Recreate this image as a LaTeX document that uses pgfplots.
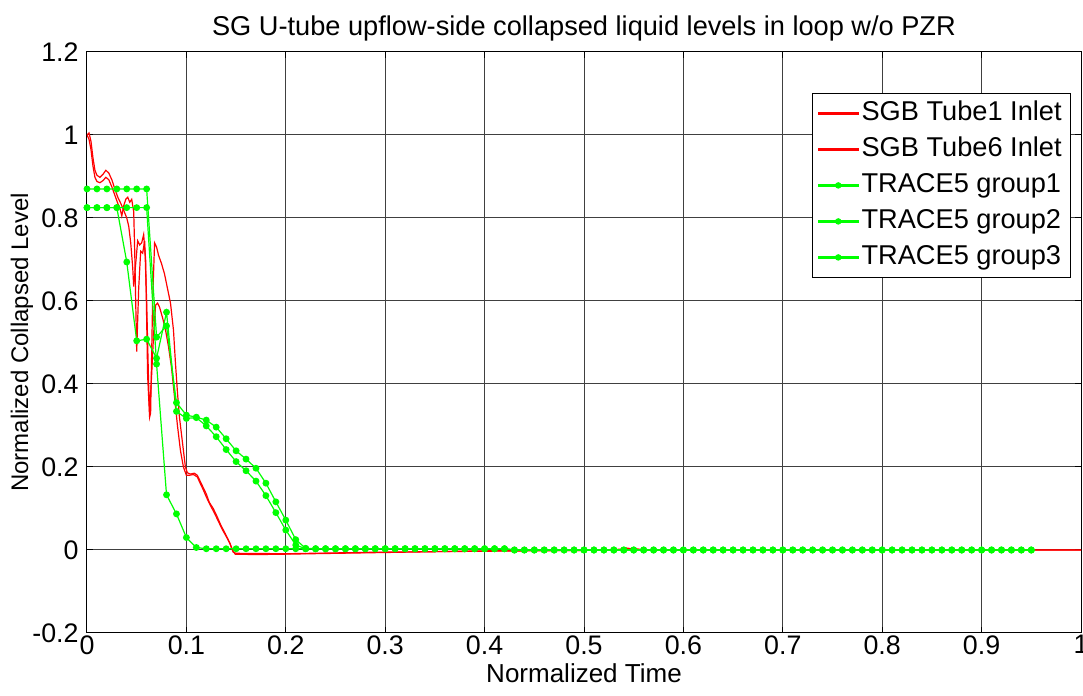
\documentclass[border=0pt]{standalone}
\usepackage{pgfplots}
\pgfplotsset{compat=1.18}
\usepackage{pgfplotstable}
\usepackage{fontspec}
\setmainfont{Liberation Sans}

\pgfplotstableread[row sep=\\]{
x y\\
0 0.870\\ 0.01 0.870\\ 0.02 0.870\\ 0.03 0.870\\ 0.04 0.870\\ 0.05 0.870\\ 0.06 0.870\\
0.07 0.513\\ 0.08 0.540\\ 0.09 0.355\\ 0.10 0.325\\ 0.11 0.320\\ 0.12 0.313\\ 0.13 0.296\\
0.14 0.268\\ 0.15 0.239\\ 0.16 0.219\\ 0.17 0.197\\ 0.18 0.161\\ 0.19 0.116\\ 0.20 0.072\\
0.21 0.025\\ 0.22 0.004\\
0.23 0.003\\ 0.24 0.003\\ 0.25 0.003\\ 0.26 0.003\\ 0.27 0.003\\ 0.28 0.003\\ 0.29 0.003\\ 0.30 0.003\\
0.31 0.003\\ 0.32 0.003\\ 0.33 0.003\\ 0.34 0.003\\ 0.35 0.003\\ 0.36 0.003\\ 0.37 0.003\\ 0.38 0.003\\
0.39 0.003\\ 0.40 0.003\\ 0.41 0.003\\ 0.42 0.003\\
0.43 0\\ 0.44 0\\ 0.45 0\\ 0.46 0\\ 0.47 0\\ 0.48 0\\ 0.49 0\\ 0.50 0\\ 0.51 0\\ 0.52 0\\ 0.53 0\\
0.54 0\\ 0.55 0\\ 0.56 0\\ 0.57 0\\ 0.58 0\\ 0.59 0\\ 0.60 0\\ 0.61 0\\ 0.62 0\\ 0.63 0\\ 0.64 0\\
0.65 0\\ 0.66 0\\ 0.67 0\\ 0.68 0\\ 0.69 0\\ 0.70 0\\ 0.71 0\\ 0.72 0\\ 0.73 0\\ 0.74 0\\ 0.75 0\\
0.76 0\\ 0.77 0\\ 0.78 0\\ 0.79 0\\ 0.80 0\\ 0.81 0\\ 0.82 0\\ 0.83 0\\ 0.84 0\\ 0.85 0\\ 0.86 0\\
0.87 0\\ 0.88 0\\ 0.89 0\\ 0.90 0\\ 0.91 0\\ 0.92 0\\ 0.93 0\\ 0.94 0\\ 0.95 0\\
}\groupone

\pgfplotstableread[row sep=\\]{
x y\\
0 0.825\\ 0.01 0.825\\ 0.02 0.825\\ 0.03 0.825\\ 0.04 0.825\\ 0.05 0.825\\ 0.06 0.825\\
0.07 0.448\\ 0.08 0.133\\ 0.09 0.087\\ 0.10 0.030\\ 0.11 0.006\\ 0.12 0.003\\ 0.13 0.003\\
0.14 0.003\\ 0.15 0.003\\ 0.16 0.003\\ 0.17 0.003\\ 0.18 0.003\\ 0.19 0.003\\ 0.20 0.003\\
0.21 0.003\\ 0.22 0.003\\
0.23 0.003\\ 0.24 0.003\\ 0.25 0.003\\ 0.26 0.003\\ 0.27 0.003\\ 0.28 0.003\\ 0.29 0.003\\ 0.30 0.003\\
0.31 0.003\\ 0.32 0.003\\ 0.33 0.003\\ 0.34 0.003\\ 0.35 0.003\\ 0.36 0.003\\ 0.37 0.003\\ 0.38 0.003\\
0.39 0.003\\ 0.40 0.003\\ 0.41 0.003\\ 0.42 0.003\\
0.43 0\\ 0.44 0\\ 0.45 0\\ 0.46 0\\ 0.47 0\\ 0.48 0\\ 0.49 0\\ 0.50 0\\ 0.51 0\\ 0.52 0\\ 0.53 0\\
0.54 0\\ 0.55 0\\ 0.56 0\\ 0.57 0\\ 0.58 0\\ 0.59 0\\ 0.60 0\\ 0.61 0\\ 0.62 0\\ 0.63 0\\ 0.64 0\\
0.65 0\\ 0.66 0\\ 0.67 0\\ 0.68 0\\ 0.69 0\\ 0.70 0\\ 0.71 0\\ 0.72 0\\ 0.73 0\\ 0.74 0\\ 0.75 0\\
0.76 0\\ 0.77 0\\ 0.78 0\\ 0.79 0\\ 0.80 0\\ 0.81 0\\ 0.82 0\\ 0.83 0\\ 0.84 0\\ 0.85 0\\ 0.86 0\\
0.87 0\\ 0.88 0\\ 0.89 0\\ 0.90 0\\ 0.91 0\\ 0.92 0\\ 0.93 0\\ 0.94 0\\ 0.95 0\\
}\grouptwo

\pgfplotstableread[row sep=\\]{
x y\\
0 0.825\\ 0.01 0.825\\ 0.02 0.825\\ 0.03 0.825\\ 0.04 0.694\\ 0.05 0.504\\ 0.06 0.508\\
0.07 0.462\\ 0.08 0.573\\ 0.09 0.334\\ 0.10 0.317\\ 0.11 0.319\\ 0.12 0.299\\ 0.13 0.273\\
0.14 0.242\\ 0.15 0.213\\ 0.16 0.191\\ 0.17 0.166\\ 0.18 0.131\\ 0.19 0.090\\ 0.20 0.048\\
0.21 0.012\\ 0.22 0.003\\
0.23 0.003\\ 0.24 0.003\\ 0.25 0.003\\ 0.26 0.003\\ 0.27 0.003\\ 0.28 0.003\\ 0.29 0.003\\ 0.30 0.003\\
0.31 0.003\\ 0.32 0.003\\ 0.33 0.003\\ 0.34 0.003\\ 0.35 0.003\\ 0.36 0.003\\ 0.37 0.003\\ 0.38 0.003\\
0.39 0.003\\ 0.40 0.003\\ 0.41 0.003\\ 0.42 0.003\\
0.43 0\\ 0.44 0\\ 0.45 0\\ 0.46 0\\ 0.47 0\\ 0.48 0\\ 0.49 0\\ 0.50 0\\ 0.51 0\\ 0.52 0\\ 0.53 0\\
0.54 0\\ 0.55 0\\ 0.56 0\\ 0.57 0\\ 0.58 0\\ 0.59 0\\ 0.60 0\\ 0.61 0\\ 0.62 0\\ 0.63 0\\ 0.64 0\\
0.65 0\\ 0.66 0\\ 0.67 0\\ 0.68 0\\ 0.69 0\\ 0.70 0\\ 0.71 0\\ 0.72 0\\ 0.73 0\\ 0.74 0\\ 0.75 0\\
0.76 0\\ 0.77 0\\ 0.78 0\\ 0.79 0\\ 0.80 0\\ 0.81 0\\ 0.82 0\\ 0.83 0\\ 0.84 0\\ 0.85 0\\ 0.86 0\\
0.87 0\\ 0.88 0\\ 0.89 0\\ 0.90 0\\ 0.91 0\\ 0.92 0\\ 0.93 0\\ 0.94 0\\ 0.95 0\\
}\groupthree

\begin{document}
\begin{tikzpicture}
\begin{axis}[
  scale only axis,
  width=497pt, height=290.5pt,
  xmin=0, xmax=1, ymin=-0.2, ymax=1.2,
  xtick={0,0.1,0.2,0.3,0.4,0.5,0.6,0.7,0.8,0.9,1},
  xticklabels={0,0.1,0.2,0.3,0.4,0.5,0.6,0.7,0.8,0.9,1},
  ytick={-0.2,0,0.2,0.4,0.6,0.8,1,1.2},
  yticklabels={-0.2,0,0.2,0.4,0.6,0.8,1,1.2},
  grid=major,
  major grid style={black!75, line width=0.5pt},
  axis line style={black, line width=0.5pt},
  tick align=inside, major tick length=3pt, tick style={black, line width=0.5pt},
  /pgf/number format/assume math mode=true,
  ticklabel style={font=\fontsize{13.4}{15}\selectfont},
  xticklabel style={inner sep=1pt},
  yticklabel style={inner sep=2pt, xshift=-2pt},
  title={SG U-tube upflow-side collapsed liquid levels in loop w/o PZR},
  title style={font=\fontsize{13.6}{15}\selectfont, at={(axis description cs:0.5,1)}, anchor=center, yshift=6pt},
  xlabel={Normalized Time},
  xlabel style={font=\fontsize{13}{15}\selectfont, at={(axis description cs:0.5,0)}, anchor=center, yshift=-20pt},
  ylabel={Normalized Collapsed Level},
  ylabel style={font=\fontsize{12}{14}\selectfont, at={(axis description cs:-0.0654,0.5)}, anchor=center},
  legend style={at={(rel axis cs:0.99,0.9294)}, anchor=north east,
    font=\fontsize{13.6}{15}\selectfont, row sep=0pt, inner xsep=3pt, inner ysep=1pt, fill=white,
    nodes={inner sep=1.5pt, text height=11pt, text depth=4pt}},
  legend cell align=left,
]
\addplot[color=red, line width=0.6pt, no markers, forget plot] coordinates {
(0,1.0) (0.002,1.005) (0.004,0.985) (0.006,0.945) (0.008,0.915) (0.010,0.903) (0.013,0.898) (0.016,0.905)
(0.019,0.915) (0.022,0.908) (0.025,0.892) (0.028,0.87) (0.031,0.85) (0.034,0.835) (0.037,0.818) (0.040,0.80)
(0.042,0.78) (0.044,0.74) (0.046,0.68) (0.047,0.635) (0.049,0.69) (0.051,0.745) (0.053,0.735) (0.055,0.74)
(0.057,0.76) (0.059,0.70) (0.061,0.42) (0.063,0.32) (0.064,0.33) (0.066,0.60) (0.068,0.74) (0.070,0.73)
(0.072,0.71) (0.075,0.69) (0.078,0.665) (0.081,0.63) (0.084,0.595) (0.087,0.53) (0.089,0.45) (0.091,0.38)
(0.093,0.32) (0.096,0.26) (0.099,0.20) (0.101,0.186) (0.104,0.183) (0.108,0.185) (0.111,0.18) (0.114,0.165)
(0.117,0.15) (0.120,0.135) (0.123,0.115) (0.127,0.1) (0.131,0.08) (0.135,0.058) (0.139,0.04) (0.143,0.02)
(0.146,0.002) (0.149,-0.01) (0.17,-0.011) (0.2,-0.01) (0.25,-0.008) (0.3,-0.006) (0.35,-0.004) (0.4,-0.003)
(0.45,-0.002) (0.5,-0.001) (0.535,0) (0.542,0.005) (0.55,0.002) (0.56,0) (1,0)
};
\addplot[color=red, line width=0.6pt, no markers, forget plot] coordinates {
(0,1.0) (0.002,0.99) (0.004,0.965) (0.006,0.925) (0.008,0.898) (0.010,0.888) (0.013,0.885) (0.016,0.89)
(0.019,0.898) (0.022,0.892) (0.025,0.875) (0.028,0.855) (0.031,0.835) (0.033,0.825) (0.035,0.805) (0.037,0.83)
(0.039,0.845) (0.041,0.85) (0.043,0.838) (0.045,0.845) (0.047,0.815) (0.048,0.72) (0.050,0.478) (0.052,0.63)
(0.054,0.72) (0.056,0.715) (0.058,0.745) (0.060,0.60) (0.062,0.40) (0.063,0.33) (0.065,0.42) (0.067,0.52)
(0.069,0.59) (0.071,0.595) (0.073,0.585) (0.076,0.56) (0.079,0.53) (0.082,0.49) (0.085,0.44) (0.088,0.37)
(0.091,0.30) (0.094,0.24) (0.097,0.20) (0.100,0.18) (0.103,0.18) (0.107,0.182) (0.111,0.176) (0.114,0.16)
(0.117,0.145) (0.120,0.128) (0.124,0.108) (0.128,0.09) (0.132,0.07) (0.136,0.05) (0.140,0.033) (0.144,0.015)
(0.147,-0.005) (0.15,-0.008) (0.2,-0.009) (0.25,-0.007) (0.3,-0.005) (0.35,-0.004) (0.4,-0.002) (0.5,-0.001)
(0.54,0.002) (0.55,0.004) (0.56,0) (1,0)
};
\addplot[color=green, line width=0.6pt, mark=*, mark size=1.4pt, mark options={solid, fill=green, draw=green}, forget plot] table {\groupone};
\addplot[color=green, line width=0.6pt, mark=*, mark size=1.4pt, mark options={solid, fill=green, draw=green}, forget plot] table {\grouptwo};
\addplot[color=green, line width=0.6pt, mark=*, mark size=1.4pt, mark options={solid, fill=green, draw=green}, forget plot] table {\groupthree};
\addlegendimage{legend image code/.code={\fill[red] (0cm,-0.32pt) rectangle (0.7cm,0.32pt);}}
\addlegendentry{SGB Tube1 Inlet}
\addlegendimage{legend image code/.code={\fill[red] (0cm,-0.32pt) rectangle (0.7cm,0.32pt);}}
\addlegendentry{SGB Tube6 Inlet}
\addlegendimage{legend image code/.code={\fill[green] (0cm,-0.32pt) rectangle (0.7cm,0.32pt); \fill[green] (0.35cm,0cm) circle (1.4pt);}}
\addlegendentry{TRACE5 group1}
\addlegendimage{legend image code/.code={\fill[green] (0cm,-0.32pt) rectangle (0.7cm,0.32pt); \fill[green] (0.35cm,0cm) circle (1.4pt);}}
\addlegendentry{TRACE5 group2}
\addlegendimage{legend image code/.code={\fill[green] (0cm,-0.32pt) rectangle (0.7cm,0.32pt); \fill[green] (0.35cm,0cm) circle (1.4pt);}}
\addlegendentry{TRACE5 group3}
\coordinate (LL) at (rel axis cs:0,0);
\coordinate (UR) at (rel axis cs:1,1);
\end{axis}
\pgfresetboundingbox
\path[use as bounding box] ([shift={(-43.5pt,-31.5pt)}]LL) rectangle ([shift={(1pt,26pt)}]UR);
\end{tikzpicture}
\end{document}
